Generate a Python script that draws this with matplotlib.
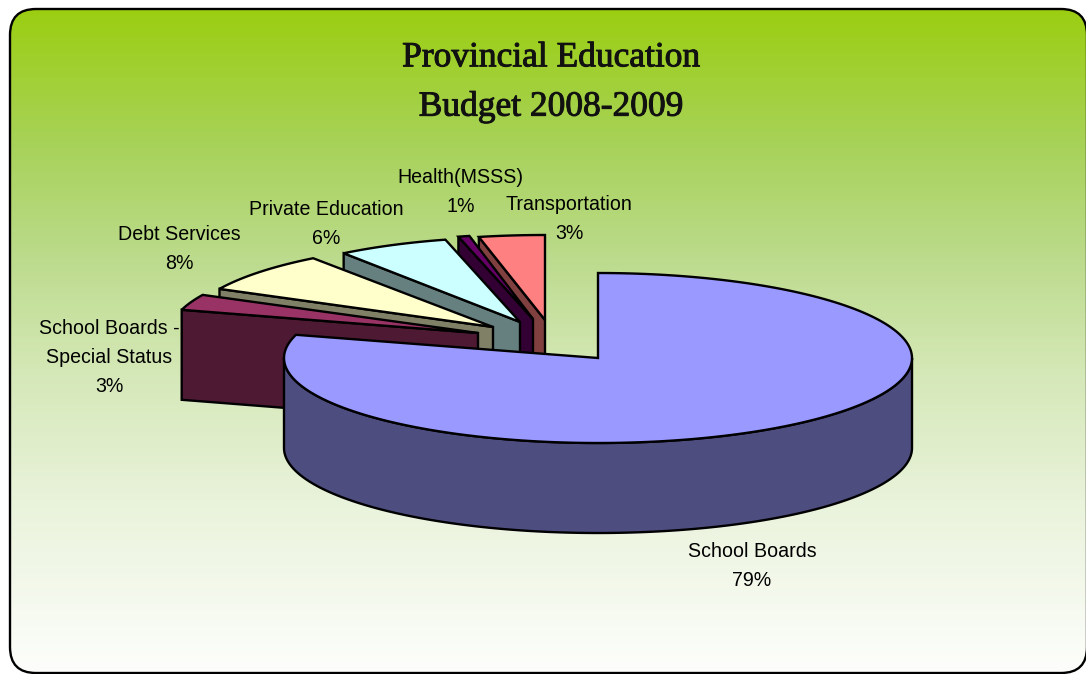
import matplotlib
matplotlib.use('Agg')
import matplotlib.pyplot as plt
import matplotlib.patheffects as pe
from matplotlib.patches import FancyBboxPatch
from matplotlib.colors import LinearSegmentedColormap
import numpy as np

# clockwise from 12 o'clock
categories = ['School Boards', 'School Boards -\nSpecial Status', 'Debt Services',
              'Private Education', 'Health(MSSS)', 'Transportation']
shares = [79.4, 3.0, 7.6, 6.0, 0.6, 3.4]

top_colors = ['#9999FF', '#993366', '#FFFFCC', '#CCFFFF', '#660066', '#FF8080']
wall_colors = ['#4D4D80', '#4D1933', '#808066', '#668080', '#330033', '#804040']

# layout, in pixels of the 1086x674 picture
apex = [(598, 358), (478, 333), (493, 327), (520, 322), (533, 319), (545, 320)]
radius_x = [314, 308, 306, 300, 300, 312]
radius_y = 85
depth = 90
label_pos = [(752, 566), (109.5, 357.5), (179, 249), (326, 224), (460.5, 192), (569, 219)]

fig = plt.figure(figsize=(10.86, 6.74), dpi=100)
ax = fig.add_axes([0, 0, 1, 1])
ax.set_xlim(0, 1086)
ax.set_ylim(674, 0)
ax.axis('off')

# background
grad = LinearSegmentedColormap.from_list('bg', [(0, '#9BCE12'), (0.2, '#A7D258'), (0.36, '#BADA88'),
                                                (0.55, '#D5E8B8'), (0.75, '#EAF3DC'), (1, '#FDFEFC')])
box = FancyBboxPatch((10, 9), 1077, 664, boxstyle='round,pad=0,rounding_size=26',
                     facecolor='none', edgecolor='black', linewidth=1.7, zorder=2)
ax.add_patch(box)
img = ax.imshow(np.linspace(0, 1, 664).reshape(-1, 1), cmap=grad, extent=(10, 1087, 673, 9),
                aspect='auto', zorder=1)
img.set_clip_path(box)
ax.set_xlim(0, 1086)
ax.set_ylim(674, 0)


def rim(center, rx, t0, t1):
    t = np.radians(np.linspace(t0, t1, 200))
    return center[0] + rx * np.sin(t), center[1] - radius_y * np.cos(t)


def draw_slice(i, t0, t1):
    c, rx = apex[i], radius_x[i]
    if i == 0:
        # the big slice shows its round front wall
        x, y = rim(c, rx, 90, 270)
        wx = np.r_[x, x[::-1]]
        wy = np.r_[y, y[::-1] + depth]
    else:
        # the others show the cut face on their left side
        x, y = rim(c, rx, t0, t0)
        wx = [x[0], c[0], c[0], x[0]]
        wy = [y[0], c[1], c[1] + depth, y[0] + depth]
    ax.fill(wx, wy, facecolor=wall_colors[i], edgecolor='black', linewidth=1.7, zorder=3)
    x, y = rim(c, rx, t0, t1)
    ax.fill(np.r_[c[0], x], np.r_[c[1], y], facecolor=top_colors[i], edgecolor='black',
            linewidth=1.7, zorder=3)


edges = np.cumsum([0] + shares) / sum(shares) * 360
# back slices first, big one goes on top
for i in range(len(shares) - 1, -1, -1):
    draw_slice(i, edges[i], edges[i + 1])

for i in range(len(shares)):
    pct = max(1, round(shares[i]))
    ax.text(label_pos[i][0], label_pos[i][1], f'{categories[i]}\n{pct}%', ha='center', va='center',
            family='Liberation Sans', fontsize=14.15, linespacing=1.7, color='black', zorder=4)

title = ax.text(551, 82.5, 'Provincial Education\nBudget 2008-2009', ha='center', va='center',
                family='Liberation Serif', fontsize=25.5, linespacing=1.62, color='#111111', zorder=4)
title.set_path_effects([pe.withStroke(linewidth=0.7, foreground='#111111')])

fig.savefig('out.png', dpi=100)
